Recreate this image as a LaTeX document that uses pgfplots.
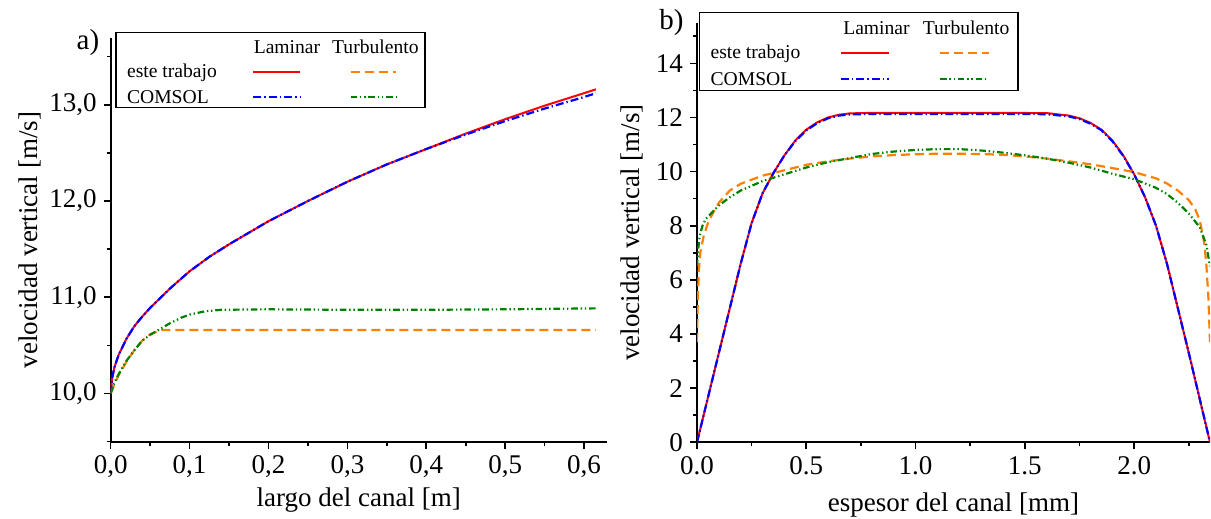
\documentclass[border=0pt]{standalone}
\usepackage{fontspec}
\setmainfont{Liberation Serif}
\usepackage{pgfplots}
\pgfplotsset{compat=1.18}

\definecolor{cred}{RGB}{255,0,0}
\definecolor{corange}{RGB}{255,128,0}
\definecolor{cblue}{RGB}{0,0,255}
\definecolor{cgreen}{RGB}{0,128,0}

\tikzset{
  lamT/.style={cred, line width=1pt},
  turT/.style={corange, line width=1.1pt, dash pattern=on 4.5pt off 2.5pt},
  lamC/.style={cblue, line width=1.1pt, dash pattern=on 4pt off 1.5pt on 0.7pt off 1.5pt},
  turC/.style={cgreen, line width=1.1pt, dash pattern=on 3.3pt off 1.4pt on 0.7pt off 1.4pt on 0.7pt off 1.4pt},
}

\pgfplotsset{
  panel/.style={
    scale only axis,
    axis lines=left,
    axis line style={-, line width=0.9pt},
    every outer x axis line/.append style={-},
    every outer y axis line/.append style={-},
    tick align=outside,
    major tick length=3.5pt, minor tick length=2pt,
    every tick/.append style={black, line width=0.8pt},
    tick label style={font=\fontsize{13.5}{16}\selectfont},
    label style={font=\fontsize{13.5}{16}\selectfont},
    /pgf/number format/assume math mode=true,
  },
}

\begin{document}
\begin{tikzpicture}
\useasboundingbox (-55.35pt,-38.65pt) rectangle (550.15pt,220.85pt);

% a) velocidad a lo largo del canal
\begin{axis}[panel,
  at={(0pt,0pt)}, anchor=south west,
  width=248pt, height=201.7pt,
  xmin=0, xmax=0.6287, ymin=9.5, ymax=13.69,
  xtick={0,0.1,0.2,0.3,0.4,0.5,0.6},
  minor xtick={0.05,0.15,0.25,0.35,0.45,0.55},
  ytick={10,11,12,13},
  minor ytick={9.5,10.5,11.5,12.5,13.5},
  xticklabel style={/pgf/number format/.cd, fixed, fixed zerofill, precision=1, use comma},
  yticklabel style={/pgf/number format/.cd, fixed, fixed zerofill, precision=1, use comma},
  xlabel={largo del canal [m]},
  ylabel={velocidad vertical [m/s]},
  xlabel style={at={(axis description cs:0.5,-0.145)}, anchor=center},
  ylabel style={at={(axis description cs:-0.163,0.5)}, anchor=center},
]
\addplot[lamT] coordinates {
  (0,10.0) (0.002,10.17) (0.005,10.28) (0.01,10.40) (0.02,10.57) (0.03,10.70)
  (0.04,10.80) (0.05,10.89) (0.075,11.09) (0.1,11.27) (0.125,11.42) (0.15,11.55)
  (0.2,11.79) (0.25,12.00) (0.3,12.20) (0.35,12.38) (0.4,12.54) (0.45,12.70)
  (0.5,12.85) (0.55,12.99) (0.6,13.12) (0.615,13.16)};
\addplot[turT] coordinates {
  (0,10.0) (0.005,10.10) (0.01,10.19) (0.02,10.33) (0.03,10.45) (0.04,10.55)
  (0.05,10.615) (0.06,10.65) (0.065,10.66) (0.1,10.66) (0.2,10.66) (0.3,10.66)
  (0.4,10.66) (0.5,10.66) (0.615,10.66)};
\addplot[lamC] coordinates {
  (0,10.0) (0.002,10.17) (0.005,10.28) (0.01,10.40) (0.02,10.57) (0.03,10.70)
  (0.04,10.80) (0.05,10.89) (0.075,11.09) (0.1,11.27) (0.125,11.42) (0.15,11.55)
  (0.2,11.79) (0.25,12.00) (0.3,12.20) (0.35,12.38) (0.4,12.54) (0.45,12.69)
  (0.5,12.83) (0.55,12.96) (0.6,13.08) (0.615,13.12)};
\addplot[turC] coordinates {
  (0,10.0) (0.005,10.12) (0.01,10.20) (0.02,10.34) (0.03,10.45) (0.04,10.55)
  (0.05,10.61) (0.0625,10.67) (0.075,10.73) (0.09,10.79) (0.1,10.82) (0.12,10.855)
  (0.14,10.87) (0.2,10.875) (0.3,10.87) (0.4,10.87) (0.5,10.875) (0.615,10.885)};
\end{axis}

% b) perfil a traves del espesor
\begin{axis}[panel,
  at={(293.15pt,-0.3pt)}, anchor=south west,
  width=256.5pt, height=209.8pt,
  xmin=0, xmax=2.347, ymin=0, ymax=15.5,
  xtick={0,0.5,1,1.5,2},
  minor xtick={0.25,0.75,1.25,1.75,2.25},
  ytick={0,2,4,6,8,10,12,14},
  minor ytick={1,3,5,7,9,11,13,15},
  xticklabel style={/pgf/number format/.cd, fixed, fixed zerofill, precision=1},
  xlabel={espesor del canal [mm]},
  ylabel={velocidad vertical [m/s]},
  xlabel style={at={(axis description cs:0.5,-0.149)}, anchor=center},
  ylabel style={at={(axis description cs:-0.127,0.5)}, anchor=center},
]
\addplot[lamT] coordinates {
  (0,0) (0.05,1.65) (0.1,3.3) (0.15,4.95) (0.2,6.6) (0.25,8.1) (0.3,9.2)
  (0.35,9.95) (0.4,10.6) (0.45,11.15) (0.5,11.55) (0.55,11.82) (0.6,12.0)
  (0.65,12.1) (0.7,12.15) (0.8,12.17) (1.0,12.17) (1.2,12.17) (1.4,12.17)
  (1.6,12.16) (1.7,12.07) (1.75,11.97) (1.8,11.8) (1.85,11.55) (1.9,11.15)
  (1.95,10.6) (2.0,9.9) (2.05,9.05) (2.1,8.0) (2.15,6.6) (2.2,4.95) (2.25,3.3)
  (2.3,1.6) (2.347,0)};
\addplot[turT] coordinates {
  (0,3.7) (0.003,5.0) (0.008,6.3) (0.015,7.0) (0.03,7.6) (0.05,8.1) (0.075,8.5)
  (0.1,8.85) (0.15,9.3) (0.2,9.55) (0.3,9.85) (0.4,10.05) (0.5,10.25) (0.6,10.38)
  (0.7,10.48) (0.8,10.56) (0.9,10.61) (1.0,10.64) (1.1,10.66) (1.2,10.66)
  (1.3,10.65) (1.4,10.62) (1.5,10.56) (1.6,10.48) (1.7,10.38) (1.8,10.27)
  (1.9,10.13) (2.0,9.98) (2.1,9.75) (2.15,9.56) (2.2,9.3) (2.25,8.95) (2.28,8.6)
  (2.3,8.2) (2.32,7.4) (2.33,6.6) (2.34,5.3) (2.347,3.7)};
\addplot[lamC] coordinates {
  (0,0) (0.05,1.65) (0.1,3.3) (0.15,4.95) (0.2,6.6) (0.25,8.1) (0.3,9.2)
  (0.35,9.95) (0.4,10.6) (0.45,11.13) (0.5,11.52) (0.55,11.79) (0.6,11.97)
  (0.65,12.07) (0.7,12.11) (0.8,12.13) (1.0,12.13) (1.2,12.13) (1.4,12.13)
  (1.6,12.12) (1.7,12.04) (1.75,11.94) (1.8,11.77) (1.85,11.53) (1.9,11.13)
  (1.95,10.58) (2.0,9.9) (2.05,9.05) (2.1,8.0) (2.15,6.6) (2.2,4.95) (2.25,3.3)
  (2.3,1.6) (2.347,0)};
\addplot[turC] coordinates {
  (0,6.5) (0.005,7.1) (0.012,7.6) (0.025,8.0) (0.04,8.25) (0.07,8.5) (0.1,8.75)
  (0.15,9.05) (0.2,9.3) (0.3,9.65) (0.4,9.9) (0.5,10.15) (0.6,10.35) (0.7,10.5)
  (0.8,10.65) (0.9,10.74) (1.0,10.8) (1.1,10.83) (1.2,10.83) (1.3,10.78)
  (1.4,10.7) (1.5,10.6) (1.6,10.48) (1.7,10.33) (1.8,10.15) (1.9,9.92) (2.0,9.72)
  (2.1,9.4) (2.15,9.17) (2.2,8.85) (2.25,8.45) (2.3,7.95) (2.33,7.3) (2.347,6.5)};
\end{axis}

% leyendas y rotulos de panel (coordenadas en pixeles de la figura)
\begin{scope}[x=0.5pt, y=-0.5pt, shift={(-110.7,-441.7)},
  lg/.style={font=\fontsize{9.8}{12}\selectfont, inner sep=0pt}]
  \node[font=\fontsize{14.5}{17}\selectfont, inner sep=0pt] at (88,43) {a)};
  \node[font=\fontsize{14.5}{17}\selectfont, inner sep=0pt] at (671.5,22.5) {b)};

  \draw[line width=0.75pt, fill=white] (116,32.3) rectangle (425,107.7);
  \node[lg] at (287,47.3) {Laminar};
  \node[lg] at (375.4,47.3) {Turbulento};
  \node[lg, anchor=west] at (126.7,72.3) {este trabajo};
  \node[lg, anchor=west] at (126.7,97.3) {COMSOL};
  \draw[lamT] (253.4,72) -- (299.8,72);
  \draw[turT] (350.5,72) -- (396,72);
  \draw[lamC] (253.4,97) -- (299.8,97);
  \draw[turC] (350.5,97) -- (396,97);

  \draw[line width=0.75pt, fill=white] (699.3,12.7) rectangle (1018,90.7);
  \node[lg] at (876.5,28.3) {Laminar};
  \node[lg] at (966.1,28.3) {Turbulento};
  \node[lg, anchor=west] at (710.2,53.3) {este trabajo};
  \node[lg, anchor=west] at (710.2,79) {COMSOL};
  \draw[lamT] (840.7,53) -- (888.6,53);
  \draw[turT] (939.9,53) -- (988.6,53);
  \draw[lamC] (840.7,79) -- (888.6,79);
  \draw[turC] (939.9,79) -- (988.6,79);
\end{scope}
\end{tikzpicture}
\end{document}
